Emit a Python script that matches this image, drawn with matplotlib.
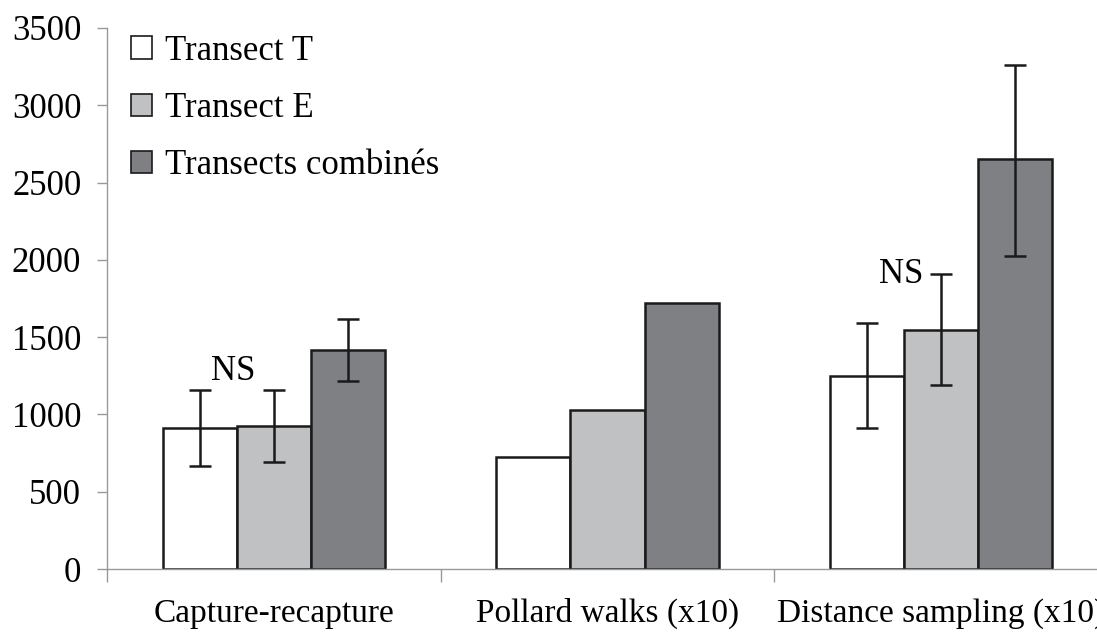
import matplotlib
matplotlib.use("Agg")
import matplotlib.pyplot as plt
from matplotlib.patches import Patch
import numpy as np

plt.rcParams['font.family'] = ['Liberation Serif', 'DejaVu Serif']

categories = ["Capture-recapture", "Pollard walks (x10)", "Distance sampling (x10)"]
series = ["Transect T", "Transect E", "Transects combinés"]
colors = ["#ffffff", "#c0c1c3", "#7f8083"]

values_T = [910, 723, 1248]
values_E = [925, 1028, 1546]
values_C = [1417, 1720, 2652]

# error bar ends (low, high); None where no bar drawn
err_T = [(666, 1158), None, (912, 1591)]
err_E = [(692, 1158), None, (1190, 1908)]
err_C = [(1218, 1619), None, (2027, 3258)]

# "NS" marks: (text, group index, baseline value)
ns_labels = [("NS", 0, 1223), None, ("NS", 2, 1850)]

fig = plt.figure(figsize=(10.97, 6.42), dpi=100)
ax = fig.add_axes([0.0975, 0.1137, 0.9125, 0.8427])

x = np.arange(len(categories))
w = 0.222
all_vals = [values_T, values_E, values_C]
all_err = [err_T, err_E, err_C]
for i, (vals, errs, c) in enumerate(zip(all_vals, all_err, colors)):
    xpos = x + (i - 1) * w
    ax.bar(xpos, vals, width=w, color=c, edgecolor="#1a1a1a", linewidth=1.8, zorder=2)
    for xp, v, e in zip(xpos, vals, errs):
        if e is None:
            continue
        ax.errorbar(xp, v, yerr=[[v - e[0]], [e[1] - v]], fmt="none",
                    ecolor="#1a1a1a", elinewidth=1.8, capsize=8, capthick=1.8, zorder=3)

for item in ns_labels:
    if item is None:
        continue
    txt, gi, yv = item
    ax.text(gi - 0.5 * w - 0.01, yv, txt, fontsize=25, ha="center", va="baseline", zorder=4)

ax.set_xlim(-0.5, 2.5)
ax.set_ylim(0, 3500)
ax.set_yticks(np.arange(0, 3501, 500))
ax.tick_params(axis="y", labelsize=25, length=7, color="#999999", width=1, pad=11.5)

ax.set_xticks([-0.5, 0.5, 1.5, 2.5])
ax.set_xticklabels([])
ax.set_xticks(x, minor=True)
ax.set_xticklabels(categories, minor=True)
ax.tick_params(axis="x", which="major", length=9, color="#999999", width=1)
ax.tick_params(axis="x", which="minor", length=0, labelsize=24, pad=21)

for s in ["top", "right"]:
    ax.spines[s].set_visible(False)
for s in ["left", "bottom"]:
    ax.spines[s].set_color("#999999")
    ax.spines[s].set_linewidth(1)

handles = [Patch(facecolor=c, edgecolor="#1a1a1a", linewidth=1.2) for c in colors]
ax.legend(handles, series, loc="upper left", bbox_to_anchor=(0.01, 1.013), frameon=False,
          fontsize=25, handlelength=0.62, handleheight=0.62, handletextpad=0.35,
          labelspacing=0.7, borderaxespad=0)

fig.savefig("out.png", dpi=100)
